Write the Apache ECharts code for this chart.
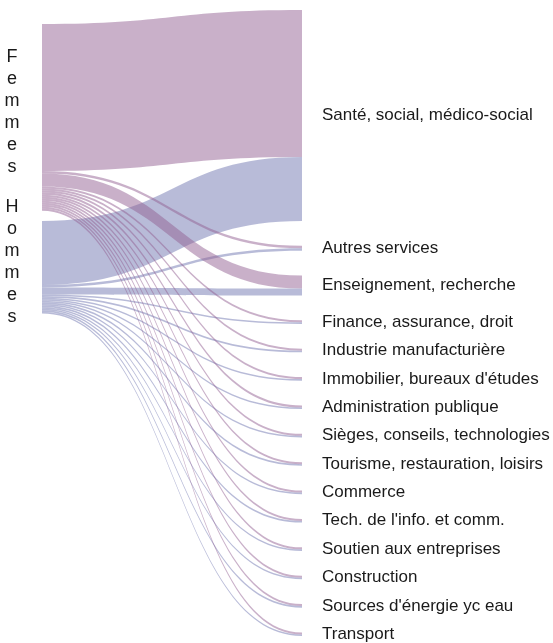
<!DOCTYPE html>
<html>
<head>
<meta charset="utf-8">
<script src="https://cdn.jsdelivr.net/npm/echarts@6/dist/echarts.min.js"></script>
<style>
  html, body { margin: 0; padding: 0; background: #fff; }
  #chart { width: 553px; height: 643px; }
</style>
</head>
<body>
<div id="chart"></div>
<script>
// groupes (gauche) et secteurs (droite)
const groupes = ['Femmes', 'Hommes']
const secteurs = [
  'Santé, social, médico-social',
  'Autres services',
  'Enseignement, recherche',
  'Finance, assurance, droit',
  'Industrie manufacturière',
  'Immobilier, bureaux d\'études',
  'Administration publique',
  'Sièges, conseils, technologies',
  'Tourisme, restauration, loisirs',
  'Commerce',
  'Tech. de l\'info. et comm.',
  'Soutien aux entreprises',
  'Construction',
  'Sources d\'énergie yc eau',
  'Transport'
]
// effectifs (unités relatives)
const femmes = [147, 2.5, 13, 2, 2, 2, 2.1, 2, 2, 2, 2, 2, 2, 2, 2]
const hommes = [64, 2.5, 7, 1.6, 1.6, 1.6, 1.5, 1.6, 1.6, 1.6, 1.6, 1.6, 1.6, 1.6, 1.6]

const couleurs = { Femmes: '#936193', Hommes: '#7177b1' }
// position verticale des groupes (fraction de la hauteur)
const posGroupes = { Femmes: 0.0224, Hommes: 0.337 }

const police = 'Liberation Sans, Arial, sans-serif'

const nodes = []
groupes.forEach(g => {
  nodes.push({
    name: g,
    localY: posGroupes[g],
    itemStyle: { color: couleurs[g], opacity: 0 },
    label: {
      position: 'left',
      distance: 28,
      align: 'center',
      fontSize: 18,
      lineHeight: 22,
      offset: [0, -5],
      formatter: p => p.name.split('').join('\n')
    }
  })
})
secteurs.forEach(s => {
  nodes.push({ name: s, itemStyle: { color: '#999', opacity: 0 } })
})

const links = []
secteurs.forEach((s, i) => {
  links.push({ source: 'Femmes', target: s, value: femmes[i], lineStyle: { color: couleurs.Femmes } })
  links.push({ source: 'Hommes', target: s, value: hommes[i], lineStyle: { color: couleurs.Hommes } })
})

const chart = echarts.init(document.getElementById('chart'))
chart.setOption({
  animation: false,
  series: [{
    type: 'sankey',
    left: 40,
    right: 249,
    top: 10,
    bottom: 7,
    nodeWidth: 2,
    nodeGap: 24.77,
    layoutIterations: 0,
    draggable: false,
    emphasis: { disabled: true },
    data: nodes,
    links: links,
    label: {
      position: 'right',
      distance: 18,
      fontFamily: police,
      fontSize: 17,
      color: '#1a1a1a'
    },
    lineStyle: { opacity: 0.5, curveness: 0.5 }
  }]
})
</script>
</body>
</html>
